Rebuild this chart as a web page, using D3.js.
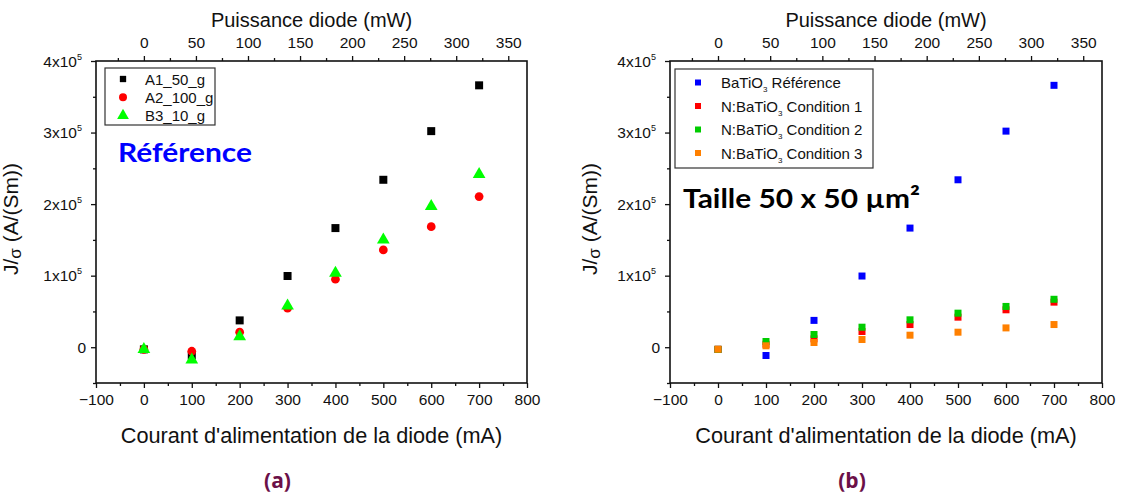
<!DOCTYPE html>
<html><head><meta charset="utf-8">
<script src="https://cdn.jsdelivr.net/npm/d3@7"></script>
<style>
body{margin:0;background:#fff;}
text{font-family:"Liberation Sans",Arial,sans-serif;fill:#111;}
</style></head>
<body><svg id="c" width="1121" height="495"></svg>
<script>
// ---- data ----
const currents = [0, 100, 200, 300, 400, 500, 600, 700];
const xTicks = [-100, 0, 100, 200, 300, 400, 500, 600, 700, 800];
const powerTicks = [0, 50, 100, 150, 200, 250, 300, 350];
const powerDomain = [-46, 368];
const yTicks = [0, 100000, 200000, 300000, 400000];
const yTickLabels = ["0", "1x10|5", "2x10|5", "3x10|5", "4x10|5"];

const a1_50_g = [-3000, -11600, 37500, 99500, 166500, 234000, 302000, 366000];
const a2_100_g = [-3000, -5600, 21000, 54500, 95000, 136000, 168500, 210500];
const b3_10_g = [-3000, -17500, 15000, 58000, 103500, 150000, 197000, 241500];

const batio3Ref = [-3000, -11600, 37500, 99500, 166500, 234000, 302000, 366000];
const cond1 = [-3000, 4000, 11700, 22000, 31700, 42000, 52300, 63000];
const cond2 = [-3000, 8000, 17800, 28000, 38300, 47600, 57000, 67000];
const cond3 = [-2800, 2000, 6600, 10800, 16800, 21000, 27000, 31700];

const svg = d3.select("#c");
const FONT = "Liberation Sans, Arial, sans-serif";

function panel(cfg){
  const g = svg.append("g");
  const x = d3.scaleLinear().domain([-100, 800]).range([cfg.x0, cfg.x1]);
  const xp = d3.scaleLinear().domain(powerDomain).range([cfg.x0, cfg.x1]);
  const y = d3.scaleLinear().domain([-50000, 400000]).range([383, 61]);

  // frame
  g.append("rect").attr("x", cfg.x0).attr("y", 61).attr("width", cfg.x1 - cfg.x0).attr("height", 322)
    .attr("fill", "none").attr("stroke", "#111").attr("stroke-width", 1.6);

  // bottom axis
  const xb = g.append("g").attr("transform", "translate(0,383)")
    .call(d3.axisBottom(x).tickValues(xTicks).tickSize(5).tickFormat(d3.format("d")));
  g.append("g").attr("transform", "translate(0,383)")
    .call(d3.axisBottom(x).tickValues(d3.range(-50, 800, 100)).tickSize(3).tickFormat(""));
  // top axis
  const xt = g.append("g").attr("transform", "translate(0,61)")
    .call(d3.axisTop(xp).tickValues(powerTicks).tickSize(5).tickFormat(d3.format("d")));
  g.append("g").attr("transform", "translate(0,61)")
    .call(d3.axisTop(xp).tickValues(d3.range(-25, 368, 50)).tickSize(3).tickFormat(""));
  // left axis
  g.append("g").attr("transform", `translate(${cfg.x0},0)`)
    .call(d3.axisLeft(y).tickValues(yTicks).tickSize(5).tickFormat(""));
  g.append("g").attr("transform", `translate(${cfg.x0},0)`)
    .call(d3.axisLeft(y).tickValues(d3.range(-50000, 400000, 100000)).tickSize(3).tickFormat(""));

  g.selectAll(".domain").remove();
  g.selectAll(".tick line").attr("stroke", "#111").attr("stroke-width", 1.3);
  g.selectAll(".tick text").style("font-size", "15.5px").style("font-family", FONT).attr("fill", "#111");
  xb.selectAll(".tick text").attr("dy", "0.9em");
  xt.selectAll(".tick text").attr("dy", "-0.35em");

  // y tick labels with superscripts
  yTicks.forEach((v, i) => {
    const parts = yTickLabels[i].split("|");
    const t = g.append("text").attr("x", cfg.x0 - (parts[1] ? 14 : 10)).attr("y", y(v) + 5.5)
      .attr("text-anchor", "end").style("font-size", "15.5px");
    t.append("tspan").text(parts[0]);
    if (parts[1]) t.append("tspan").text(parts[1]).attr("dy", -7).style("font-size", "9px");
  });

  // titles
  const cx = (cfg.x0 + cfg.x1) / 2;
  g.append("text").attr("x", cx).attr("y", 27).attr("text-anchor", "middle")
    .style("font-size", "20px").text("Puissance diode (mW)");
  g.append("text").attr("x", cx).attr("y", 443).attr("text-anchor", "middle")
    .style("font-size", "21.7px").text("Courant d'alimentation de la diode (mA)");
  const yt = g.append("text").attr("transform", `translate(${cfg.x0 - cfg.ytOff},219) rotate(-90)`)
    .attr("text-anchor", "middle").style("font-size", "21px");
  yt.append("tspan").text("J/");
  yt.append("tspan").text("σ").style("font-size", "17px").attr("dy", 3);
  yt.append("tspan").text(" (A/(Sm))").attr("dy", -3);

  // panel label
  g.append("text").attr("x", cx - 34).attr("y", 488).attr("text-anchor", "middle")
    .style("font-family", "Open Sans, sans-serif").style("font-weight", "bold").style("font-size", "21px")
    .attr("fill", "#6b1048").style("fill", "#6b1048").text(cfg.label);

  // series
  cfg.series.forEach(s => {
    const sym = d3.symbol().type(s.shape).size(s.size);
    g.append("g").selectAll("path").data(s.values).join("path")
      .attr("transform", (d, i) => `translate(${x(currents[i])},${y(d)})`)
      .attr("d", sym).attr("fill", s.color);
  });

  // legend
  const L = cfg.legend;
  g.append("rect").attr("x", L.x).attr("y", L.y).attr("width", L.w).attr("height", L.h)
    .attr("fill", "#fff").attr("stroke", "#333").attr("stroke-width", 1.2);
  cfg.series.forEach((s, i) => {
    const yy = L.y + L.first + i * L.step;
    g.append("path").attr("transform", `translate(${L.mx},${yy})`)
      .attr("d", d3.symbol().type(s.shape).size(s.legendSize)).attr("fill", s.color);
    const t = g.append("text").attr("x", L.tx).attr("y", yy + 5.5).style("font-size", "15px");
    const parts = s.name.split("|");
    t.append("tspan").text(parts[0]);
    if (parts.length > 1) {
      t.append("tspan").text(parts[1]).attr("dy", 4).style("font-size", "8px");
      t.append("tspan").text(parts[2]).attr("dy", -4);
    }
  });

  // annotation
  g.append("text").attr("x", cfg.note.x).attr("y", cfg.note.y)
    .style("font-family", "Lato, Open Sans, sans-serif").style("font-weight", "bold")
    .style("font-size", cfg.note.size + "px").attr("fill", cfg.note.color).style("fill", cfg.note.color)
    .attr("textLength", cfg.note.len).attr("lengthAdjust", "spacingAndGlyphs")
    .text(cfg.note.text);
}

panel({
  x0: 96, x1: 527, label: "(a)", ytOff: 78,
  series: [
    {name: "A1_50_g", values: a1_50_g, color: "#000000", shape: d3.symbolSquare, size: 64, legendSize: 40},
    {name: "A2_100_g", values: a2_100_g, color: "#ff0000", shape: d3.symbolCircle, size: 60, legendSize: 50},
    {name: "B3_10_g", values: b3_10_g, color: "#00ff00", shape: d3.symbolTriangle, size: 70, legendSize: 60}
  ],
  legend: {x: 105, y: 68, w: 110, h: 57, first: 11, step: 18.3, mx: 123, tx: 145},
  note: {x: 118, y: 162, text: "Référence", size: 27, color: "#0000ff", len: 134}
});

panel({
  x0: 670, x1: 1102, label: "(b)", ytOff: 73,
  series: [
    {name: "BaTiO|3| Référence", values: batio3Ref, color: "#0000ff", shape: d3.symbolSquare, size: 49, legendSize: 36},
    {name: "N:BaTiO|3| Condition 1", values: cond1, color: "#ff0000", shape: d3.symbolSquare, size: 49, legendSize: 36},
    {name: "N:BaTiO|3| Condition 2", values: cond2, color: "#00cc00", shape: d3.symbolSquare, size: 49, legendSize: 36},
    {name: "N:BaTiO|3| Condition 3", values: cond3, color: "#ff8000", shape: d3.symbolSquare, size: 49, legendSize: 36}
  ],
  legend: {x: 675, y: 69, w: 198, h: 99, first: 13.5, step: 23.5, mx: 698, tx: 721},
  note: {x: 683, y: 208, text: "Taille 50 x 50 µm²", size: 27, color: "#000000", len: 237}
});
</script></body></html>
